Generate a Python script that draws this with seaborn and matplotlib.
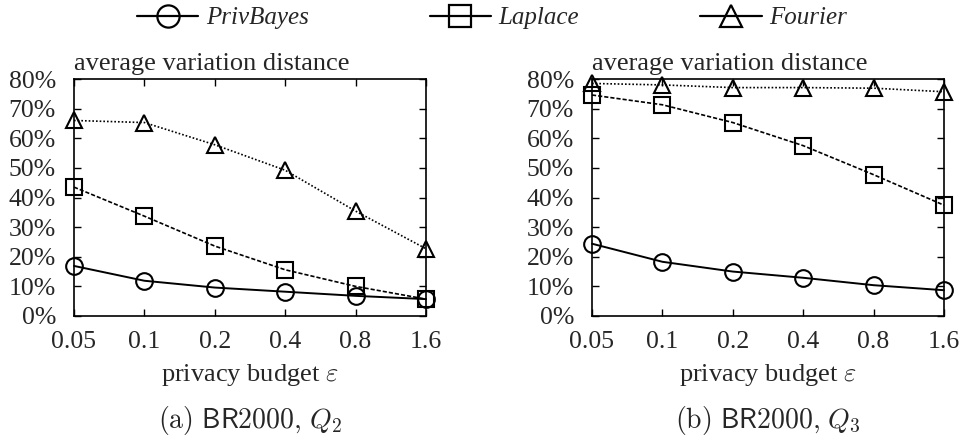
import matplotlib
matplotlib.use("Agg")
import matplotlib.pyplot as plt
import seaborn as sns
import numpy as np
import pandas as pd
from matplotlib.ticker import FuncFormatter
from matplotlib.lines import Line2D

eps_labels = ["0.05", "0.1", "0.2", "0.4", "0.8", "1.6"]
methods = ["PrivBayes", "Laplace", "Fourier"]

q2_privbayes = [16.9, 11.9, 9.6, 8.2, 6.8, 5.7]
q2_laplace = [43.5, 33.7, 23.6, 15.6, 10.0, 5.7]
q2_fourier = [66.0, 65.3, 57.8, 49.2, 35.4, 22.7]

q3_privbayes = [24.4, 18.3, 15.0, 12.9, 10.4, 8.7]
q3_laplace = [74.6, 71.3, 65.3, 57.5, 47.7, 37.4]
q3_fourier = [78.5, 78.0, 77.1, 77.1, 76.9, 75.7]

subtitles = [r"$\mathrm{(a)}\ \mathsf{BR2000}\mathrm{,}\ Q_2$",
             r"$\mathrm{(b)}\ \mathsf{BR2000}\mathrm{,}\ Q_3$"]

sns.set_style("ticks")
plt.rcParams["font.family"] = ["Liberation Serif", "DejaVu Serif"]
plt.rcParams["mathtext.fontset"] = "cm"
FS = 19
TFS = 18.5

styles = {
    "PrivBayes": dict(marker="o", ls="-", lw=1.4),
    "Laplace": dict(marker="s", ls=(0, (2.5, 1.2)), lw=1.2),
    "Fourier": dict(marker="^", ls=(0, (1, 1.2)), lw=1.2),
}

fig = plt.figure(figsize=(9.71, 4.37), dpi=100)
ax_pos = [[74 / 971, 1 - 316 / 437, 352 / 971, 237 / 437],
          [592 / 971, 1 - 316 / 437, 352 / 971, 237 / 437]]
panels = [
    {"PrivBayes": q2_privbayes, "Laplace": q2_laplace, "Fourier": q2_fourier},
    {"PrivBayes": q3_privbayes, "Laplace": q3_laplace, "Fourier": q3_fourier},
]

for i, (pos, data) in enumerate(zip(ax_pos, panels)):
    ax = fig.add_axes(pos)
    x = np.arange(len(eps_labels))
    for m in methods:
        st = styles[m]
        sns.lineplot(x=x, y=np.array(data[m]) / 100.0, ax=ax, color="black",
                     marker=st["marker"], linestyle=st["ls"], linewidth=st["lw"],
                     markersize=12 if st["marker"] != "s" else 11.5,
                     markerfacecolor="none", markeredgecolor="black",
                     markeredgewidth=1.5, clip_on=False, zorder=3)
    ax.set_xlim(0, 5)
    ax.set_ylim(0, 0.8)
    ax.set_xticks(x)
    ax.set_xticklabels(eps_labels)
    ax.set_yticks(np.arange(0, 0.81, 0.1))
    ax.yaxis.set_major_formatter(FuncFormatter(lambda v, p: f"{int(round(v * 100))}%"))
    ax.tick_params(direction="in", top=True, right=True, length=5, width=1,
                   labelsize=TFS, color="black")
    ax.tick_params(axis="x", pad=11)
    ax.tick_params(axis="y", pad=13)
    for s in ax.spines.values():
        s.set_visible(True)
        s.set_linewidth(1.2)
        s.set_color("black")
    ax.set_xlabel(r"privacy budget $\varepsilon$", fontsize=FS, labelpad=6)
    ax.set_ylabel("")
    ax.text(0, 1.04, "average variation distance", transform=ax.transAxes,
            ha="left", va="baseline", fontsize=FS)
    ax.text(0.5, -0.37, subtitles[i], transform=ax.transAxes, ha="center",
            va="top", fontsize=20)
    if ax.get_legend():
        ax.get_legend().remove()

handles = [Line2D([], [], color="black", marker=styles[m]["marker"], linestyle="-",
                  lw=1.6, markersize=16, markerfacecolor="none",
                  markeredgecolor="black", markeredgewidth=1.6) for m in methods]
fig.legend(handles, methods, loc="center", bbox_to_anchor=(492 / 971, 1 - 18 / 437), ncol=3,
           frameon=False, handlelength=2.45, columnspacing=4.85, handletextpad=0.3,
           borderpad=0, borderaxespad=0,
           prop={"family": "Liberation Serif", "style": "italic", "size": 18})

fig.savefig("out.png", dpi=100)
